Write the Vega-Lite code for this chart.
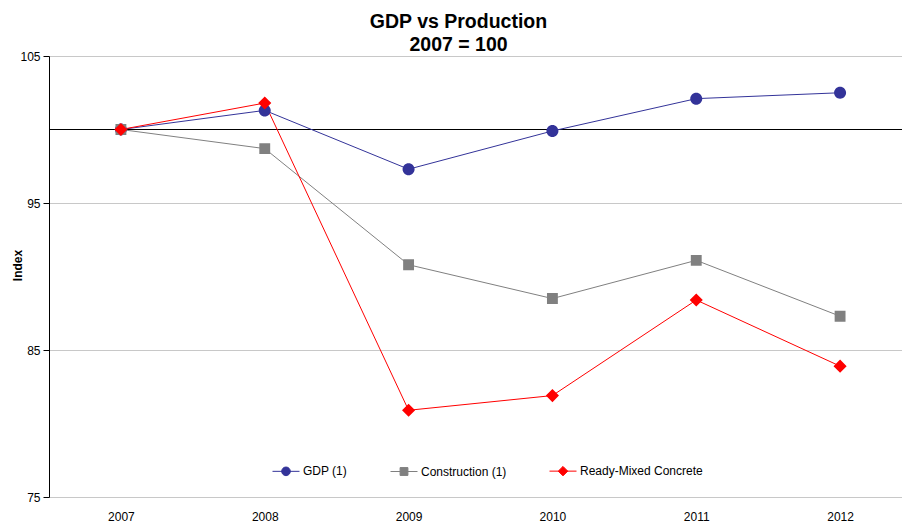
{
  "$schema": "https://vega.github.io/schema/vega-lite/v6.json",
  "autosize": "none",
  "padding": {"left": 49, "top": 56, "right": 0, "bottom": 30},
  "width": 863,
  "height": 441,
  "background": "white",
  "config": {
    "font": "Liberation Sans",
    "view": {"stroke": null}
  },
  "title": {
    "text": ["GDP vs Production", "2007 = 100"],
    "font": "Liberation Sans",
    "fontSize": 19.5,
    "fontWeight": "bold",
    "color": "#000000",
    "anchor": "middle",
    "dx": -22,
    "offset": -5,
    "lineHeight": 23
  },
  "data": {
    "values": [
      {"year": "2007", "series": "GDP (1)", "value": 100.0},
      {"year": "2008", "series": "GDP (1)", "value": 101.3},
      {"year": "2009", "series": "GDP (1)", "value": 97.3},
      {"year": "2010", "series": "GDP (1)", "value": 99.9},
      {"year": "2011", "series": "GDP (1)", "value": 102.1},
      {"year": "2012", "series": "GDP (1)", "value": 102.5},
      {"year": "2007", "series": "Construction (1)", "value": 100.0},
      {"year": "2008", "series": "Construction (1)", "value": 98.7},
      {"year": "2009", "series": "Construction (1)", "value": 90.8},
      {"year": "2010", "series": "Construction (1)", "value": 88.5},
      {"year": "2011", "series": "Construction (1)", "value": 91.1},
      {"year": "2012", "series": "Construction (1)", "value": 87.3},
      {"year": "2007", "series": "Ready-Mixed Concrete", "value": 100.0},
      {"year": "2008", "series": "Ready-Mixed Concrete", "value": 101.8},
      {"year": "2009", "series": "Ready-Mixed Concrete", "value": 80.9},
      {"year": "2010", "series": "Ready-Mixed Concrete", "value": 81.9},
      {"year": "2011", "series": "Ready-Mixed Concrete", "value": 88.4},
      {"year": "2012", "series": "Ready-Mixed Concrete", "value": 83.9}
    ]
  },
  "encoding": {
    "x": {
      "field": "year",
      "type": "ordinal",
      "scale": {"type": "point", "padding": 0.5},
      "axis": {
        "title": null,
        "labelAngle": 0,
        "domain": false,
        "ticks": false,
        "grid": false,
        "labelFont": "Liberation Sans",
        "labelFontSize": 12,
        "labelColor": "#000000",
        "labelPadding": 14
      }
    },
    "y": {
      "field": "value",
      "type": "quantitative",
      "scale": {"domain": [75, 105], "nice": false, "zero": false},
      "axis": {
        "title": "Index",
        "titleFont": "Liberation Sans",
        "titleFontSize": 12,
        "titleFontWeight": "bold",
        "titleColor": "#000000",
        "titleX": -32,
        "titleY": 209,
        "titleBaseline": "middle",
        "titleAngle": 270,
        "values": [75, 85, 95, 105],
        "domainColor": "#000000",
        "domainWidth": 1,
        "tickColor": "#000000",
        "tickSize": 6,
        "labelFont": "Liberation Sans",
        "labelFontSize": 12,
        "labelColor": "#000000",
        "labelPadding": 3,
        "gridColor": "#c8c8c8",
        "gridWidth": 1
      }
    },
    "color": {
      "field": "series",
      "type": "nominal",
      "scale": {
        "domain": ["GDP (1)", "Construction (1)", "Ready-Mixed Concrete"],
        "range": ["#333399", "#808080", "#ff0000"]
      },
      "legend": {
        "title": null,
        "orient": "none",
        "direction": "horizontal",
        "legendX": 223,
        "legendY": 401,
        "symbolSize": 729,
        "symbolStrokeWidth": 1,
        "symbolOpacity": 1,
        "labelFont": "Liberation Sans",
        "labelFontSize": 12,
        "labelColor": "#000000",
        "labelOffset": 3,
        "columnPadding": 40
      }
    }
  },
  "layer": [
    {
      "mark": {"type": "rule", "color": "#000000", "strokeWidth": 1},
      "encoding": {
        "y": {"datum": 100},
        "x": null,
        "color": null
      }
    },
    {
      "mark": {"type": "line", "strokeWidth": 1},
      "encoding": {
        "order": {"field": "year"}
      }
    },
    {
      "mark": {"type": "point", "filled": true, "opacity": 1, "size": 1406, "strokeWidth": 0},
      "encoding": {
        "shape": {
          "field": "series",
          "type": "nominal",
          "scale": {
            "domain": ["GDP (1)", "Construction (1)", "Ready-Mixed Concrete"],
            "range": [
              "M-1,0H1M0.32,0A0.32,0.32,0,1,1,-0.32,0A0.32,0.32,0,1,1,0.32,0Z",
              "M-1,0H1M-0.29,-0.29H0.29V0.29H-0.29Z",
              "M-1,0H1M0,-0.35L0.35,0L0,0.35L-0.35,0Z"
            ]
          },
          "legend": null
        }
      }
    }
  ]
}
